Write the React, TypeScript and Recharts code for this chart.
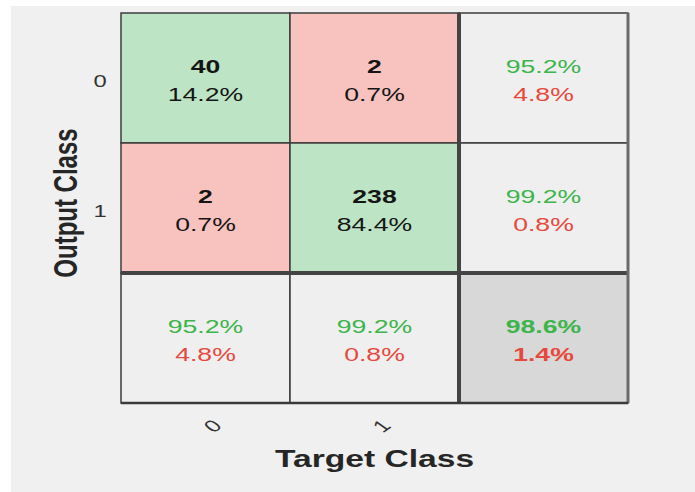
import React from "react";
import {
  ReferenceArea,
  ReferenceLine,
  Scatter,
  ScatterChart,
  XAxis,
  YAxis,
} from "recharts";

// confusion matrix: rows = output class, columns = target class
const classes = ["0", "1"];
const counts = [
  [40, 2],
  [2, 238],
];
const shares = [
  [14.2, 0.7],
  [0.7, 84.4],
];
// right column (per output class)
const rowCorrect = [95.2, 99.2];
const rowWrong = [4.8, 0.8];
// bottom row (per target class)
const colCorrect = [95.2, 99.2];
const colWrong = [4.8, 0.8];
const overall = [98.6, 1.4];

const FONT = "'Liberation Sans', Arial, Helvetica, sans-serif";
const STRETCH = 1.4;
const GREEN_FILL = "#bde5c5";
const RED_FILL = "#f8c3bf";
const SUMMARY_FILL = "#efefef";
const CORNER_FILL = "#d8d8d8";
const GREEN_TEXT = "#3cb54b";
const RED_TEXT = "#e6493c";
const INK = "#151515";
const GRID = "#3c3c3c";

type Cell = {
  x: number;
  y: number;
  fill: string;
  top: string;
  bottom: string;
  topColor: string;
  bottomColor: string;
  topBold: boolean;
  bottomBold: boolean;
};

const pct = (v: number) => `${v.toFixed(1)}%`;
const n = classes.length;

const cells: Cell[] = [];
for (let r = 0; r <= n; r++) {
  for (let c = 0; c <= n; c++) {
    const base = { x: c + 0.5, y: r + 0.5 };
    if (r < n && c < n) {
      cells.push({
        ...base,
        fill: r === c ? GREEN_FILL : RED_FILL,
        top: String(counts[r][c]),
        bottom: pct(shares[r][c]),
        topColor: INK,
        bottomColor: INK,
        topBold: true,
        bottomBold: false,
      });
    } else if (r < n) {
      cells.push({
        ...base,
        fill: SUMMARY_FILL,
        top: pct(rowCorrect[r]),
        bottom: pct(rowWrong[r]),
        topColor: GREEN_TEXT,
        bottomColor: RED_TEXT,
        topBold: false,
        bottomBold: false,
      });
    } else if (c < n) {
      cells.push({
        ...base,
        fill: SUMMARY_FILL,
        top: pct(colCorrect[c]),
        bottom: pct(colWrong[c]),
        topColor: GREEN_TEXT,
        bottomColor: RED_TEXT,
        topBold: false,
        bottomBold: false,
      });
    } else {
      cells.push({
        ...base,
        fill: CORNER_FILL,
        top: pct(overall[0]),
        bottom: pct(overall[1]),
        topColor: GREEN_TEXT,
        bottomColor: RED_TEXT,
        topBold: true,
        bottomBold: true,
      });
    }
  }
}

const ticks = classes.map((_, i) => i + 0.5);

function CellText(props: any) {
  const { cx, cy, payload } = props;
  if (cx == null || cy == null) return null;
  const d = payload as Cell;
  return (
    <g transform={`translate(${cx},${cy}) scale(${STRETCH},1)`} fontFamily={FONT} fontSize={19}>
      <text y={-5} textAnchor="middle" fill={d.topColor} fontWeight={d.topBold ? 700 : 400}>
        {d.top}
      </text>
      <text y={23.5} textAnchor="middle" fill={d.bottomColor} fontWeight={d.bottomBold ? 700 : 400}>
        {d.bottom}
      </text>
    </g>
  );
}

function YTick(props: any) {
  const { y, payload } = props;
  return (
    <g transform={`translate(100,${y + 9}) scale(${STRETCH},1)`}>
      <text textAnchor="middle" fontFamily={FONT} fontSize={17} fill="#333">
        {classes[Math.floor(payload.value)]}
      </text>
    </g>
  );
}

function XTick(props: any) {
  const { x, y, payload } = props;
  return (
    <g transform={`translate(${x + 7},${y + 15}) scale(${STRETCH},1) rotate(-45)`}>
      <text textAnchor="middle" dy="0.35em" fontFamily={FONT} fontSize={17} fill="#333">
        {classes[Math.floor(payload.value)]}
      </text>
    </g>
  );
}

function XTitle(props: any) {
  const { viewBox } = props;
  const cx = viewBox.x + viewBox.width / 2;
  return (
    <g transform={`translate(${cx},${viewBox.y + 64}) scale(${STRETCH},1)`}>
      <text textAnchor="middle" fontFamily={FONT} fontSize={24} fontWeight={700} fill="#262626">
        Target Class
      </text>
    </g>
  );
}

function YTitle(props: any) {
  const { viewBox } = props;
  const cy = viewBox.y + viewBox.height / 2 - 5;
  return (
    <g transform={`translate(77,${cy}) scale(${STRETCH},1) rotate(-90)`}>
      <text textAnchor="middle" fontFamily={FONT} fontSize={24} fontWeight={700} fill="#262626">
        Output Class
      </text>
    </g>
  );
}

export default function App() {
  return (
    <div style={{ position: "fixed", left: 0, top: 0, width: 695, height: 492, background: "#fff" }}>
      <div style={{ position: "absolute", left: 11, top: 6, right: 0, bottom: 0, background: "#f0f0f0" }} />
      <div style={{ position: "absolute", left: 0, top: 0 }}>
        <ScatterChart width={695} height={492} margin={{ top: 13, right: 67, bottom: 0, left: 0 }}>
          <XAxis
            type="number"
            dataKey="x"
            domain={[0, n + 1]}
            ticks={ticks}
            height={89}
            axisLine={false}
            tickLine={false}
            tick={<XTick />}
            label={<XTitle />}
          />
          <YAxis
            type="number"
            dataKey="y"
            domain={[0, n + 1]}
            reversed
            ticks={ticks}
            width={121}
            axisLine={false}
            tickLine={false}
            tick={<YTick />}
            label={<YTitle />}
          />
          {cells.map((c, i) => (
            <ReferenceArea
              key={i}
              x1={c.x - 0.5}
              x2={c.x + 0.5}
              y1={c.y - 0.5}
              y2={c.y + 0.5}
              fill={c.fill}
              fillOpacity={1}
              stroke={GRID}
              strokeWidth={1.5}
            />
          ))}
          <ReferenceLine x={n} stroke="#444" strokeWidth={4} />
          <ReferenceLine y={n} stroke="#444" strokeWidth={4} />
          <ReferenceLine x={n + 1} stroke="#6a6a6a" strokeWidth={3} />
          <ReferenceLine y={n + 1} stroke="#3a3a3a" strokeWidth={2.5} />
          <Scatter data={cells} isAnimationActive={false} shape={<CellText />} />
        </ScatterChart>
      </div>
    </div>
  );
}
